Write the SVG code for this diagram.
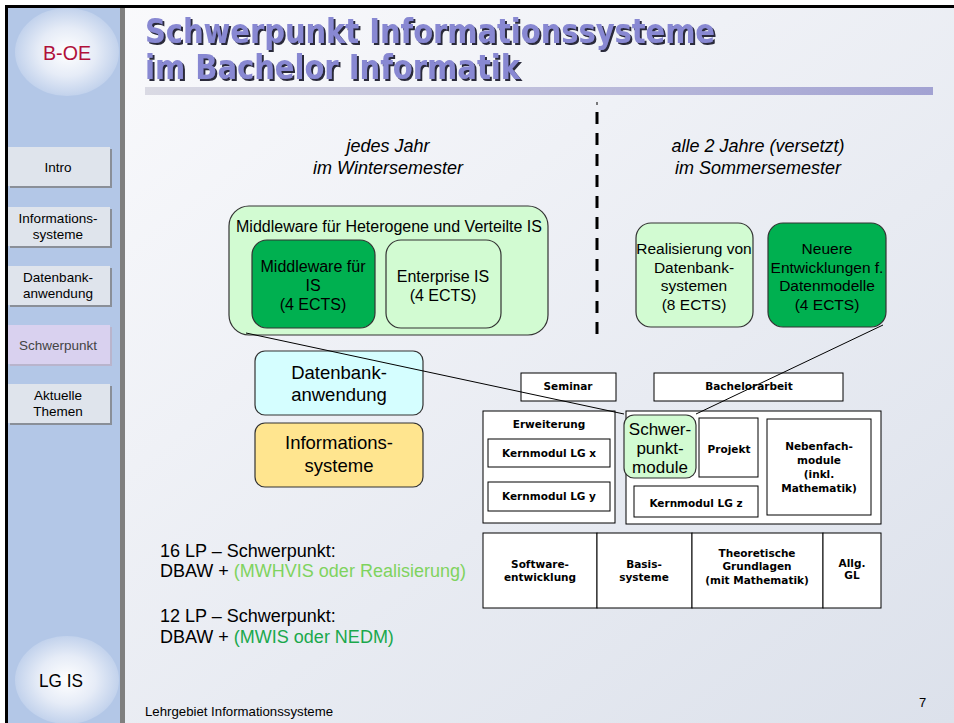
<svg xmlns="http://www.w3.org/2000/svg" width="954" height="723" viewBox="0 0 954 723">
<defs>
<linearGradient id="bg" x1="0" y1="0" x2="1" y2="1">
<stop offset="0" stop-color="#fbfbfd"/>
<stop offset="1" stop-color="#dce1eb"/>
</linearGradient>
<linearGradient id="bar" x1="0" y1="0" x2="1" y2="0">
<stop offset="0" stop-color="#dadae4"/>
<stop offset="1" stop-color="#a2a2d2"/>
</linearGradient>
<radialGradient id="circ" cx="0.5" cy="0.5" r="0.5">
<stop offset="0" stop-color="#ffffff"/>
<stop offset="0.55" stop-color="#e6ecf7"/>
<stop offset="1" stop-color="#c2d2ec"/>
</radialGradient>
<filter id="shadow" x="-5%" y="-20%" width="110%" height="150%">
<feOffset in="SourceAlpha" dx="2" dy="2" result="o"/>
<feFlood flood-color="#2a2a3a"/>
<feComposite in2="o" operator="in" result="s"/>
<feMerge><feMergeNode in="s"/><feMergeNode in="SourceGraphic"/></feMerge>
</filter>
<style>
.nav{fill:#dfe4ec}
.navs{fill:#8a8f98}
.navt{font-family:"Liberation Sans",Arial,sans-serif;font-size:13.5px;fill:#000;text-anchor:middle}
.t{font-family:"Liberation Sans",Arial,sans-serif;fill:#000;text-anchor:middle}
.b{font-family:"DejaVu Sans",Verdana,sans-serif;font-weight:bold;font-size:10.5px;fill:#000;text-anchor:middle}
.lg{fill:#d2fbd2;stroke:#333;stroke-width:1.2}
.dg{fill:#00b050;stroke:#333;stroke-width:1.2}
.wb{fill:#fff;stroke:#000;stroke-width:1}
.ttl{font-family:"DejaVu Sans",Verdana,sans-serif;font-weight:bold;font-size:33px;fill:#8888d2}
.conn{stroke:#000;stroke-width:1;fill:none}
</style>
</defs>
<rect x="0" y="0" width="954" height="723" fill="#fff"/>
<rect x="8" y="8" width="946" height="715" fill="url(#bg)"/>
<rect x="8" y="8" width="112" height="715" fill="#b3c7e7"/>
<rect x="120" y="8" width="5" height="715" fill="#7f7f7f"/>
<rect x="5" y="5" width="949" height="3" fill="#000"/>
<rect x="5" y="5" width="3" height="718" fill="#000"/>

<g id="logo-boe">
<ellipse cx="67" cy="52" rx="52" ry="44" fill="url(#circ)"/>
<text x="67" y="60" font-family="Liberation Sans,Arial,sans-serif" font-size="21" fill="#b0103a" text-anchor="middle" textLength="48" lengthAdjust="spacingAndGlyphs">B-OE</text>
</g>

<g id="nav-intro">
<rect class="navs" x="10" y="149" width="102" height="39"/>
<rect class="nav" x="8" y="147" width="102" height="39"/>
<text class="navt" x="58" y="172">Intro</text>
</g>
<g id="nav-is">
<rect class="navs" x="10" y="209" width="102" height="39"/>
<rect class="nav" x="8" y="207" width="102" height="39"/>
<text class="navt" x="58" y="223">Informations-</text>
<text class="navt" x="58" y="239">systeme</text>
</g>
<g id="nav-dbaw">
<rect class="navs" x="10" y="268" width="102" height="39"/>
<rect class="nav" x="8" y="266" width="102" height="39"/>
<text class="navt" x="58" y="282">Datenbank-</text>
<text class="navt" x="58" y="298">anwendung</text>
</g>
<g id="nav-schwerpunkt">
<rect x="10" y="327" width="102" height="39" fill="#b9b4cc"/>
<rect x="8" y="325" width="102" height="39" fill="#d9d1ef"/>
<text class="navt" x="58" y="350" style="fill:#444">Schwerpunkt</text>
</g>
<g id="nav-aktuell">
<rect class="navs" x="10" y="386" width="102" height="39"/>
<rect class="nav" x="8" y="384" width="102" height="39"/>
<text class="navt" x="58" y="400">Aktuelle</text>
<text class="navt" x="58" y="416">Themen</text>
</g>

<g id="logo-lgis">
<ellipse cx="67" cy="680" rx="52" ry="44" fill="url(#circ)"/>
<text x="61" y="687" font-family="Liberation Sans,Arial,sans-serif" font-size="19" fill="#000" text-anchor="middle" textLength="44" lengthAdjust="spacingAndGlyphs">LG IS</text>
</g>

<g id="title" filter="url(#shadow)">
<text class="ttl" x="145" y="43" textLength="570" lengthAdjust="spacingAndGlyphs">Schwerpunkt Informationssysteme</text>
<text class="ttl" x="145" y="79" textLength="375" lengthAdjust="spacingAndGlyphs">im Bachelor Informatik</text>
</g>
<rect x="145" y="87" width="788" height="8" fill="url(#bar)"/>

<line x1="597" y1="102" x2="597" y2="105" stroke="#000" stroke-width="1"/>
<line x1="597" y1="112" x2="597" y2="336" stroke="#000" stroke-width="3" stroke-dasharray="12 9"/>

<text class="t" x="388" y="152" font-size="18" font-style="italic">jedes Jahr</text>
<text class="t" x="388" y="174" font-size="18" font-style="italic">im Wintersemester</text>
<text class="t" x="758" y="152" font-size="18" font-style="italic">alle 2 Jahre (versetzt)</text>
<text class="t" x="758" y="174" font-size="18" font-style="italic">im Sommersemester</text>

<g id="mwhvis">
<rect class="lg" x="229" y="206" width="319" height="129" rx="20"/>
<text class="t" x="389" y="232" font-size="16">Middleware für Heterogene und Verteilte IS</text>
</g>
<g id="mwis">
<rect class="dg" x="252" y="240" width="123" height="88" rx="15"/>
<text class="t" x="313" y="272" font-size="16">Middleware für</text>
<text class="t" x="313" y="291" font-size="16">IS</text>
<text class="t" x="313" y="310" font-size="16">(4 ECTS)</text>
</g>
<g id="eis">
<rect class="lg" x="386" y="240" width="115" height="88" rx="15"/>
<text class="t" x="443" y="282" font-size="16">Enterprise IS</text>
<text class="t" x="443" y="301" font-size="16">(4 ECTS)</text>
</g>
<g id="realisierung">
<rect class="lg" x="636" y="223" width="117" height="104" rx="15"/>
<text class="t" x="694" y="254" font-size="15.5">Realisierung von</text>
<text class="t" x="694" y="273" font-size="15.5">Datenbank-</text>
<text class="t" x="694" y="291" font-size="15.5">systemen</text>
<text class="t" x="694" y="310" font-size="15.5">(8 ECTS)</text>
</g>
<g id="nedm">
<rect class="dg" x="768" y="223" width="118" height="104" rx="15"/>
<text class="t" x="827" y="254" font-size="15.5">Neuere</text>
<text class="t" x="827" y="273" font-size="15.5">Entwicklungen f.</text>
<text class="t" x="827" y="291" font-size="15.5">Datenmodelle</text>
<text class="t" x="827" y="310" font-size="15.5">(4 ECTS)</text>
</g>

<g id="dbaw">
<rect x="255" y="351" width="168" height="64" rx="10" fill="#d5feff" stroke="#333" stroke-width="1.2"/>
<text class="t" x="339" y="379" font-size="18.5">Datenbank-</text>
<text class="t" x="339" y="401" font-size="18.5">anwendung</text>
</g>
<g id="infosys">
<rect x="255" y="423" width="168" height="64" rx="10" fill="#ffe58f" stroke="#333" stroke-width="1.2"/>
<text class="t" x="339" y="449" font-size="18.5">Informations-</text>
<text class="t" x="339" y="472" font-size="18.5">systeme</text>
</g>

<g id="seminar">
<rect class="wb" x="521" y="373" width="95" height="28"/>
<text class="b" x="568" y="390">Seminar</text>
</g>
<g id="bachelorarbeit">
<rect class="wb" x="654" y="373" width="189" height="28"/>
<text class="b" x="749" y="390">Bachelorarbeit</text>
</g>
<g id="erweiterung">
<rect class="wb" x="483" y="411" width="132" height="112"/>
<text class="b" x="549" y="428">Erweiterung</text>
</g>
<g id="kern-x">
<rect class="wb" x="488" y="439" width="122" height="28"/>
<text class="b" x="549" y="457">Kernmodul LG x</text>
</g>
<g id="kern-y">
<rect class="wb" x="488" y="482" width="122" height="29"/>
<text class="b" x="549" y="500">Kernmodul LG y</text>
</g>
<g id="rechts">
<rect class="wb" x="626" y="411" width="255" height="113"/>
</g>
<g id="projekt">
<rect class="wb" x="699" y="418" width="59" height="59"/>
<text class="b" x="729" y="453">Projekt</text>
</g>
<g id="nebenfach">
<rect class="wb" x="767" y="419" width="104" height="96"/>
<text class="b" x="819" y="450">Nebenfach-</text>
<text class="b" x="819" y="464">module</text>
<text class="b" x="819" y="478">(inkl.</text>
<text class="b" x="819" y="492">Mathematik)</text>
</g>
<g id="kern-z">
<rect class="wb" x="634" y="486" width="124" height="31"/>
<text class="b" x="696" y="507">Kernmodul LG z</text>
</g>
<g id="schwerpunktmodule">
<rect class="lg" x="624" y="415" width="72" height="63" rx="10"/>
<text class="t" x="660" y="435" font-size="17">Schwer-</text>
<text class="t" x="660" y="454" font-size="17">punkt-</text>
<text class="t" x="660" y="473" font-size="17">module</text>
</g>

<g id="basis-row">
<rect class="wb" x="483" y="533" width="114" height="75"/>
<rect class="wb" x="597" y="533" width="95" height="75"/>
<rect class="wb" x="692" y="533" width="131" height="75"/>
<rect class="wb" x="823" y="533" width="58" height="75"/>
<text class="b" x="540" y="568">Software-</text>
<text class="b" x="540" y="581">entwicklung</text>
<text class="b" x="644" y="568">Basis-</text>
<text class="b" x="644" y="581">systeme</text>
<text class="b" x="757" y="557">Theoretische</text>
<text class="b" x="757" y="570">Grundlagen</text>
<text class="b" x="757" y="584">(mit Mathematik)</text>
<text class="b" x="852" y="567">Allg.</text>
<text class="b" x="852" y="579">GL</text>
</g>

<g id="notes" font-family="Liberation Sans,Arial,sans-serif" font-size="18">
<text x="160" y="557">16 LP – Schwerpunkt:</text>
<text x="160" y="577">DBAW + <tspan fill="#7fd35e">(MWHVIS oder Realisierung)</tspan></text>
<text x="160" y="622">12 LP – Schwerpunkt:</text>
<text x="160" y="643">DBAW + <tspan fill="#1aa84c">(MWIS oder NEDM)</tspan></text>
</g>

<g id="footer" font-family="Liberation Sans,Arial,sans-serif">
<text x="145" y="716" font-size="13" textLength="188" lengthAdjust="spacingAndGlyphs">Lehrgebiet Informationssysteme</text>
<text x="919" y="707" font-size="13">7</text>
</g>

<g id="connectors">
<line class="conn" x1="246" y1="333" x2="624" y2="414"/>
<line class="conn" x1="883" y1="325" x2="696" y2="414"/>
</g>
</svg>
